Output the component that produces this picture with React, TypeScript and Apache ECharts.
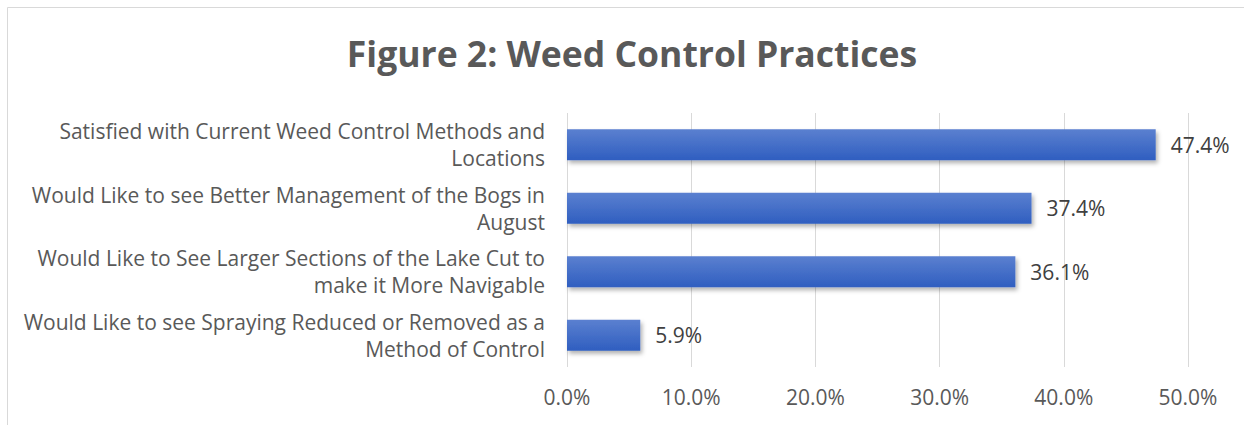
import React, { useEffect, useRef } from "react";
import * as echarts from "echarts";

const categories = [
  "Satisfied with Current Weed Control Methods and\nLocations",
  "Would Like to see Better Management of the Bogs in\nAugust",
  "Would Like to See Larger Sections of the Lake Cut to\nmake it More Navigable",
  "Would Like to see Spraying Reduced or Removed as a\nMethod of Control",
];
const values = [47.4, 37.4, 36.1, 5.9];
const titleText = "Figure 2: Weed Control Practices";

const FONT = "'Open Sans', 'DejaVu Sans', sans-serif";

export default function App() {
  const ref = useRef<HTMLDivElement>(null);
  useEffect(() => {
    if (!ref.current) return;
    const chart = echarts.init(ref.current, undefined, { renderer: "svg" });
    chart.setOption({
      animation: false,
      backgroundColor: "#ffffff",
      title: {
        text: titleText,
        left: 627,
        top: 30,
        textAlign: "center",
        textStyle: {
          fontFamily: FONT,
          fontSize: 35.5,
          fontWeight: "bold",
          color: "#595959",
        },
      },
      graphic: [
        {
          type: "rect",
          shape: { x: 7.5, y: 7.5, width: 1400, height: 600 },
          style: { fill: "none", stroke: "#d9d9d9", lineWidth: 1 },
          silent: true,
        },
      ],
      grid: { left: 567, right: 1244 - 1188, top: 113, bottom: 425 - 367, containLabel: false },
      xAxis: {
        type: "value",
        min: 0,
        max: 50,
        interval: 10,
        axisLine: { show: false },
        axisTick: { show: false },
        splitLine: { show: true, lineStyle: { color: "#d9d9d9", width: 1 } },
        axisLabel: {
          formatter: (v: number) => v.toFixed(1) + "%",
          fontFamily: FONT,
          fontSize: 21,
          color: "#595959",
          margin: 19,
        },
      },
      yAxis: {
        type: "category",
        inverse: true,
        data: categories,
        axisLine: { show: false },
        axisTick: { show: false },
        axisLabel: {
          fontFamily: FONT,
          fontSize: 21,
          color: "#595959",
          margin: 22,
          lineHeight: 27,
          align: "right",
        },
      },
      series: [
        {
          type: "bar",
          data: values,
          barWidth: "49%",
          itemStyle: {
            color: new echarts.graphic.LinearGradient(0, 0, 0, 1, [
              { offset: 0, color: "#5b80d0" },
              { offset: 1, color: "#2f5ec0" },
            ]),
            shadowColor: "rgba(0,0,0,0.3)",
            shadowBlur: 4,
            shadowOffsetX: 2,
            shadowOffsetY: 3,
          },
          label: {
            show: true,
            position: "right",
            distance: 15,
            formatter: (p: any) => p.value.toFixed(1) + "%",
            fontFamily: FONT,
            fontSize: 21,
            color: "#404040",
          },
        },
      ],
    });
    return () => chart.dispose();
  }, []);
  return (
    <div
      ref={ref}
      style={{ position: "fixed", left: 0, top: 0, width: 1244, height: 425 }}
    />
  );
}
